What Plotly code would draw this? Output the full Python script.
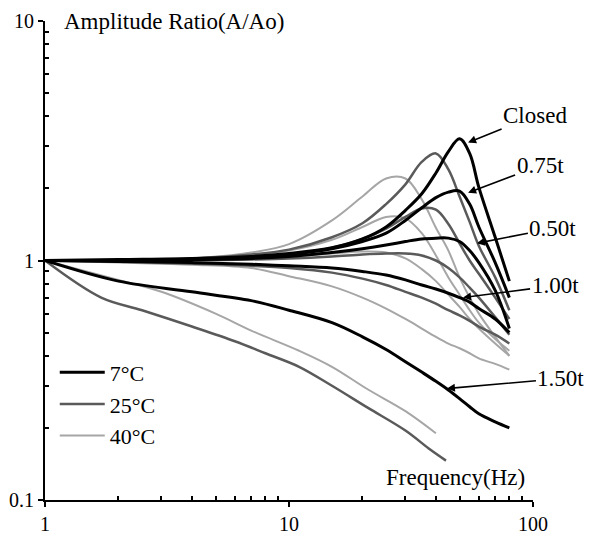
import math
import plotly.graph_objects as go

# frequency grid (Hz)
freq = [1, 2, 4, 7, 10, 15, 20, 25, 30, 35, 40, 45, 50, 55, 60, 70, 80]

# 7 C
c7_closed = [1.0, 1.01, 1.02, 1.04, 1.07, 1.13, 1.23, 1.38, 1.62, 1.90, 2.32, 2.85, 3.22, 2.80, 2.02, 1.25, 0.82]
c7_075 = [1.0, 1.0, 1.01, 1.03, 1.06, 1.12, 1.20, 1.30, 1.47, 1.66, 1.83, 1.93, 1.95, 1.72, 1.38, 0.98, 0.70]
c7_050 = [1.0, 1.0, 1.01, 1.02, 1.04, 1.08, 1.12, 1.16, 1.20, 1.23, 1.24, 1.24, 1.20, 1.10, 0.98, 0.75, 0.52]
c7_100 = [1.0, 0.99, 0.98, 0.965, 0.95, 0.93, 0.90, 0.87, 0.83, 0.79, 0.76, 0.73, 0.70, 0.67, 0.63, 0.57, 0.50]
c7_150 = [1.0, 0.82, 0.74, 0.68, 0.62, 0.55, 0.48, 0.425, 0.378, 0.342, 0.313, 0.288, 0.265, 0.245, 0.229, 0.212, 0.20]

# 25 C
c25_closed = [1.0, 1.0, 1.02, 1.06, 1.11, 1.25, 1.43, 1.72, 2.08, 2.58, 2.80, 2.40, 1.85, 1.45, 1.15, 0.85, 0.62]
c25_075 = [1.0, 1.0, 1.01, 1.03, 1.06, 1.13, 1.23, 1.36, 1.52, 1.65, 1.63, 1.42, 1.18, 1.0, 0.88, 0.70, 0.57]
c25_050 = [1.0, 1.0, 1.0, 1.01, 1.02, 1.04, 1.06, 1.07, 1.07, 1.05, 1.0, 0.93, 0.85, 0.77, 0.70, 0.58, 0.49]
c25_100 = [1.0, 0.99, 0.97, 0.95, 0.93, 0.89, 0.84, 0.79, 0.74, 0.70, 0.66, 0.62, 0.59, 0.56, 0.53, 0.49, 0.45]
freq_c25_150 = [1, 1.7, 2.5, 4, 6, 8, 11, 15, 21, 30, 38, 44]
c25_150 = [1.0, 0.70, 0.62, 0.53, 0.46, 0.41, 0.36, 0.30, 0.243, 0.195, 0.162, 0.146]

# 40 C
c40_closed = [1.0, 1.0, 1.02, 1.08, 1.17, 1.47, 1.85, 2.20, 2.20, 1.80, 1.37, 1.10, 0.85, 0.70, 0.60, 0.48, 0.40]
c40_075 = [1.0, 1.0, 1.02, 1.05, 1.10, 1.22, 1.38, 1.52, 1.50, 1.30, 1.05, 0.85, 0.72, 0.62, 0.55, 0.47, 0.42]
c40_050 = [1.0, 1.0, 1.01, 1.02, 1.04, 1.07, 1.09, 1.08, 1.02, 0.92, 0.82, 0.72, 0.64, 0.57, 0.52, 0.45, 0.40]
c40_100 = [1.0, 0.98, 0.96, 0.93, 0.86, 0.78, 0.70, 0.63, 0.57, 0.52, 0.48, 0.45, 0.43, 0.41, 0.39, 0.37, 0.35]
freq_c40_150 = [1, 2, 3, 5, 7, 11, 15, 21, 30, 40]
c40_150 = [1.0, 0.83, 0.74, 0.60, 0.51, 0.42, 0.36, 0.29, 0.235, 0.19]

temps = ["7°C", "25°C", "40°C"]
colors = ["#000000", "#5a5a5a", "#a6a6a6"]
widths = [3, 2.5, 2]
series = [
    [(freq, c7_closed), (freq, c7_075), (freq, c7_050), (freq, c7_100), (freq, c7_150)],
    [(freq, c25_closed), (freq, c25_075), (freq, c25_050), (freq, c25_100), (freq_c25_150, c25_150)],
    [(freq, c40_closed), (freq, c40_075), (freq, c40_050), (freq, c40_100), (freq_c40_150, c40_150)],
]

fig = go.Figure()
# draw light first so black sits on top
for k in [2, 1, 0]:
    for j, (fx, fy) in enumerate(series[k]):
        fig.add_trace(go.Scatter(
            x=fx, y=fy, mode="lines", line_shape="spline",
            line=dict(color=colors[k], width=widths[k]),
            name=temps[k], legendgroup=temps[k], showlegend=(j == 0),
            legendrank=k + 1,
        ))

serif = "Liberation Serif"

# arrow labels: (text, head x, head y, ax, ay)
labels = [
    ("Closed", 54.2, 3.11, 67, -27),
    ("0.75t", 54.2, 1.92, 72, -27),
    ("0.50t", 58.9, 1.18, 76, -15),
    ("1.00t", 51.7, 0.70, 92, -12),
    ("1.50t", 44.4, 0.292, 114, -10),
]
for txt, hx, hy, ax, ay in labels:
    # log axes: annotation positions are given in log10 units
    fig.add_annotation(x=math.log10(hx), y=math.log10(hy), text=txt, showarrow=True,
                       ax=ax, ay=ay, arrowhead=2, arrowsize=1, arrowwidth=1.6,
                       arrowcolor="black", font=dict(family=serif, size=23, color="black"))

fig.add_annotation(xref="paper", yref="paper", x=0.035, y=1.0, xanchor="left", yanchor="middle",
                   text="Amplitude Ratio(A/Ao)", showarrow=False,
                   font=dict(family=serif, size=23, color="black"))
fig.add_annotation(xref="paper", yref="paper", x=0.988, y=0.046, xanchor="right", yanchor="middle",
                   text="Frequency(Hz)", showarrow=False,
                   font=dict(family=serif, size=23, color="black"))

x_ticks = [1, 10, 100]
y_ticks = [0.1, 1, 10]
x_minor = [2, 3, 4, 5, 6, 7, 8, 9, 20, 30, 40, 50, 60, 70, 80, 90]
y_minor = [0.2, 0.3, 0.4, 0.5, 0.6, 0.7, 0.8, 0.9, 2, 3, 4, 5, 6, 7, 8, 9]

axis_common = dict(showline=True, linecolor="black", linewidth=2, showgrid=False, zeroline=False,
                   ticks="outside", ticklen=5, tickwidth=2, tickcolor="black", automargin=False,
                   tickfont=dict(family=serif, size=20, color="black"))
fig.update_xaxes(type="log", range=[0, 2], tickvals=x_ticks, ticktext=["1", "10", "100"],
                 minor=dict(tickvals=x_minor, ticks="inside", ticklen=4, tickwidth=2, tickcolor="black"),
                 **axis_common)
fig.update_yaxes(type="log", range=[-1, 1], tickvals=y_ticks, ticktext=["0.1", "1", "10"],
                 minor=dict(tickvals=y_minor, ticks="inside", ticklen=4, tickwidth=2, tickcolor="black"),
                 **axis_common)

# page body has an 8px margin, so the figure is a bit smaller than the window
fig.update_layout(
    width=585, height=529,
    margin=dict(l=37, r=60, t=13, b=37),
    plot_bgcolor="white", paper_bgcolor="white",
    legend=dict(x=0.02, y=0.31, xanchor="left", yanchor="top", bgcolor="rgba(0,0,0,0)",
                font=dict(family=serif, size=22, color="black"), tracegroupgap=0,
                itemwidth=45),
)

fig.write_html("out.html")
